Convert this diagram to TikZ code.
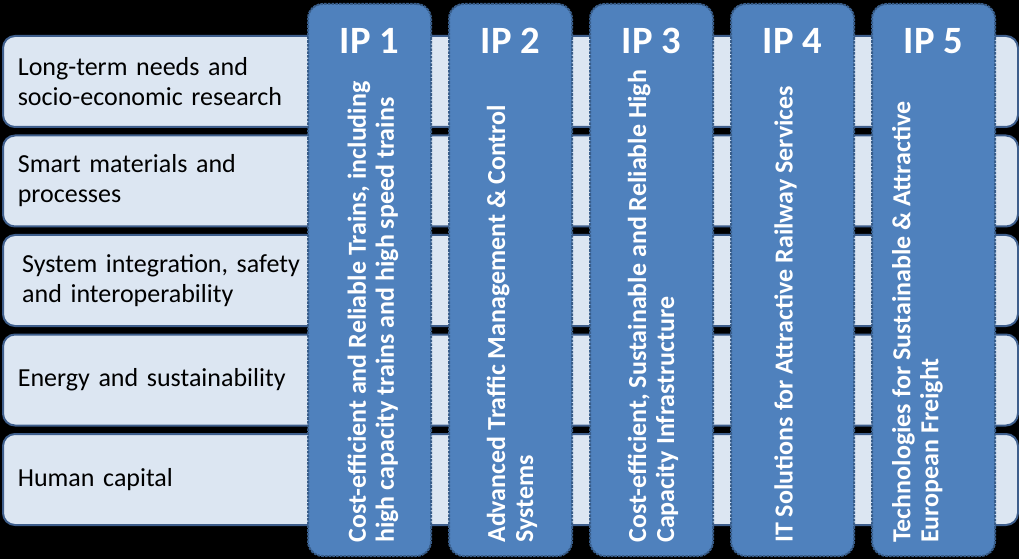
\documentclass[tikz,border=0pt]{standalone}
\usepackage{fontspec}
\setmainfont{Carlito}
\definecolor{ipblue}{HTML}{4F81BD}
\definecolor{ipedge}{HTML}{385D8A}
\definecolor{rowfill}{HTML}{DCE6F2}
\definecolor{rowedge}{HTML}{3E5E8C}
\begin{document}
\begin{tikzpicture}[x=0.75pt,y=-0.75pt,
		rowbox/.style={draw=rowedge, line width=1.5pt, fill=rowfill, rounded corners=9pt,
			minimum width=761.25pt, minimum height=68.25pt, anchor=north west,
			text width=739pt, inner xsep=11pt, align=left,
			font=\fontsize{19.5}{22.5}\selectfont},
		ipbox/.style={draw=ipedge, line width=1.5pt, dash pattern=on 2pt off 0.8pt,
			fill=ipblue, rounded corners=11pt, minimum width=92.25pt,
			minimum height=414pt, anchor=north west},
		iptitle/.style={text=white, inner sep=0pt, font=\fontsize{29}{32}\selectfont\bfseries},
		iptext/.style={text=white, rotate=90, anchor=west, align=left, inner sep=0pt,
			font=\fontsize{19.5}{21}\selectfont\bfseries}]
		\fill [black] (0,0) rectangle (1019,559);
		\useasboundingbox (0,0) rectangle (1019,559);
		% research themes
		\node [rowbox] (needs) at (2,35) {Long-term needs and\\socio-economic research};
		\node [rowbox] (materials) at (2,134.5) {Smart materials and\\processes};
		\node [rowbox] (integration) at (2,234) {\,System integration, safety\\\,and interoperability};
		\node [rowbox] (energy) at (2,333.5) {Energy and sustainability};
		\node [rowbox] (capital) at (2,433) {Human capital};
		% innovation programmes
		\node [ipbox] (ip1) at (307,3) {};
		\node [ipbox] (ip2) at (448,3) {};
		\node [ipbox] (ip3) at (589,3) {};
		\node [ipbox] (ip4) at (730,3) {};
		\node [ipbox] (ip5) at (871,3) {};
		\node [iptitle] (ip1title) at ([yshift=-28.5pt]ip1.north) {IP 1};
		\node [iptitle] (ip2title) at ([yshift=-28.5pt]ip2.north) {IP 2};
		\node [iptitle] (ip3title) at ([yshift=-28.5pt]ip3.north) {IP 3};
		\node [iptitle] (ip4title) at ([yshift=-28.5pt]ip4.north) {IP 4};
		\node [iptitle] (ip5title) at ([yshift=-28.5pt]ip5.north) {IP 5};
		\node [iptext] (ip1text) at ([xshift=2.6pt,yshift=10.5pt]ip1.south) {Cost-efficient and Reliable Trains, including\\high capacity trains and high speed trains};
		\node [iptext] (ip2text) at ([xshift=1.1pt,yshift=10.5pt]ip2.south) {Advanced Traffic Management \& Control\\Systems};
		\node [iptext] (ip3text) at ([xshift=1.1pt,yshift=10.5pt]ip3.south) {Cost-efficient, Sustainable and Reliable High\\Capacity Infrastructure};
		\node [iptext] (ip4text) at ([xshift=-5.25pt,yshift=10.5pt]ip4.south) {IT Solutions for Attractive Railway Services};
		\node [iptext] (ip5text) at ([xshift=-12pt,yshift=10.5pt]ip5.south) {Technologies for Sustainable \& Attractive\\European Freight};
	\end{tikzpicture}
\end{document}
